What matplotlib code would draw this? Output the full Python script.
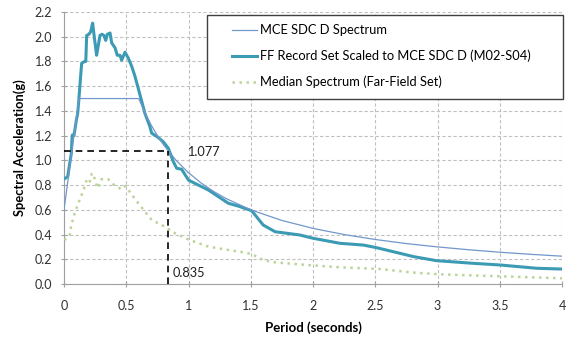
import matplotlib
matplotlib.use("Agg")
import matplotlib.pyplot as plt
from matplotlib.patches import Rectangle

plt.rcParams['font.family'] = ['Lato', 'DejaVu Sans']

# MCE SDC D design spectrum
mce_T = [0.0, 0.12, 0.6, 0.65, 0.7, 0.75, 0.8, 0.9, 1.0, 1.1, 1.2, 1.3, 1.5, 1.75,
         2.0, 2.25, 2.5, 2.75, 3.0, 3.25, 3.5, 3.75, 4.0]
mce_Sa = [0.6, 1.5, 1.5, 1.385, 1.286, 1.2, 1.125, 1.0, 0.9, 0.818, 0.75, 0.692, 0.6, 0.514,
          0.45, 0.4, 0.36, 0.327, 0.3, 0.277, 0.257, 0.24, 0.225]

# FF record set scaled to MCE SDC D (M02-S04)
ff_T = [0.01, 0.03, 0.046, 0.059, 0.064, 0.067, 0.08, 0.10, 0.11, 0.12, 0.135, 0.142, 0.165,
        0.175, 0.182, 0.20, 0.214, 0.23, 0.243, 0.262, 0.289, 0.305, 0.321, 0.335, 0.348,
        0.37, 0.383, 0.41, 0.428, 0.45, 0.463, 0.49, 0.517, 0.544, 0.57, 0.597, 0.65, 0.69,
        0.704, 0.75, 0.798, 0.838, 0.878, 0.905, 0.945, 1.00, 1.16, 1.32, 1.40, 1.507, 1.60,
        1.695, 1.896, 2.0, 2.217, 2.404, 2.51, 2.81, 2.99, 3.29, 3.5, 3.8, 4.0]
ff_Sa = [0.855, 0.868, 0.976, 1.057, 1.165, 1.205, 1.20, 1.33, 1.38, 1.50, 1.70, 1.785, 1.80,
         1.80, 2.01, 2.02, 2.04, 2.11, 2.00, 1.85, 2.01, 2.02, 2.01, 1.97, 2.02,
         2.03, 1.95, 1.91, 1.85, 1.85, 1.81, 1.875, 1.826, 1.76, 1.68, 1.58, 1.38, 1.273,
         1.22, 1.19, 1.15, 1.098, 0.99, 0.936, 0.928, 0.84, 0.76, 0.653, 0.63, 0.593, 0.477,
         0.423, 0.396, 0.37, 0.329, 0.315, 0.294, 0.221, 0.189, 0.167, 0.154, 0.127, 0.121]

# Median spectrum (far-field set)
med_T = [0.005, 0.01, 0.035, 0.046, 0.062, 0.072, 0.088, 0.112, 0.128, 0.153, 0.182, 0.193,
         0.205, 0.222, 0.233, 0.249, 0.27, 0.30, 0.356, 0.383, 0.423, 0.463, 0.49, 0.517,
         0.597, 0.704, 0.811, 0.892, 0.998, 1.16, 1.32, 1.414, 1.507, 1.60, 1.695, 1.95,
         2.217, 2.54, 2.81, 3.02, 3.42, 4.0]
med_Sa = [0.37, 0.36, 0.38, 0.396, 0.50, 0.518, 0.585, 0.64, 0.69, 0.747, 0.84, 0.84,
          0.82, 0.89, 0.896, 0.84, 0.774, 0.847, 0.847, 0.815, 0.787, 0.766, 0.793, 0.76,
          0.653, 0.518, 0.464, 0.41, 0.36, 0.302, 0.275, 0.261, 0.243, 0.194, 0.175, 0.154,
          0.135, 0.121, 0.092, 0.078, 0.065, 0.046]

mark_T = 0.835
mark_Sa = 1.077

x_ticks = [0, 0.5, 1, 1.5, 2, 2.5, 3, 3.5, 4]
x_labels = ['0', '0.5', '1', '1.5', '2', '2.5', '3', '3.5', '4']
y_ticks = [0.0, 0.2, 0.4, 0.6, 0.8, 1.0, 1.2, 1.4, 1.6, 1.8, 2.0, 2.2]

fig = plt.figure(figsize=(5.73, 3.40), dpi=100)
ax = fig.add_axes([64/573, 1 - 284/340, 498/573, 272/340])

ax.plot(ff_T, ff_Sa, color='#3c9bb4', lw=2.2, label='FF Record Set Scaled to MCE SDC D (M02-S04)', zorder=4)
ax.plot(mce_T, mce_Sa, color='#7197cc', lw=0.9, label='MCE SDC D Spectrum', zorder=5)
ax.plot(med_T, med_Sa, color='#bcd49a', lw=1.8, linestyle=(0, (1, 1.8)),
        label='Median Spectrum (Far-Field Set)', zorder=3)

ax.plot([0, mark_T], [mark_Sa, mark_Sa], color='black', lw=1.2, linestyle=(0, (4, 3)), zorder=6)
ax.plot([mark_T, mark_T], [0, mark_Sa], color='black', lw=1.2, linestyle=(0, (4, 3)), zorder=6)
ax.text(0.99, 1.068, '%.3f' % mark_Sa, fontsize=9.2, va='center', ha='left', color='#202020')
ax.text(0.875, 0.089, '%.3f' % mark_T, fontsize=9.2, va='center', ha='left', color='#202020')

ax.set_xlim(0, 4)
ax.set_ylim(0, 2.2)
ax.set_xticks(x_ticks)
ax.set_xticklabels(x_labels)
ax.set_yticks(y_ticks)
ax.set_yticklabels(['%.1f' % v for v in y_ticks])
ax.grid(True, color='#c0c0c0', lw=0.8, linestyle=(0, (3, 2)))
ax.set_axisbelow(True)
for s in ['top', 'right']:
    ax.spines[s].set_visible(False)
for s in ['left', 'bottom']:
    ax.spines[s].set_color('#a0a0a0')
ax.tick_params(axis='both', direction='inout', length=5, color='#a0a0a0',
               labelsize=9, labelcolor='#303030')
ax.tick_params(axis='x', pad=9)
ax.tick_params(axis='y', pad=6)
ax.set_xlabel('Period (seconds)', fontsize=9.5, fontweight='bold', labelpad=7)
ax.set_ylabel('Spectral Acceleration(g)', fontsize=9.3, fontweight='bold', labelpad=6)

rect = Rectangle((0.287, 0.680), 0.715, 0.309, transform=ax.transAxes, clip_on=False,
                 facecolor='white', edgecolor='#404040', lw=1.0, zorder=7)
ax.add_patch(rect)
h, l = ax.get_legend_handles_labels()
order = [1, 0, 2]
leg = ax.legend([h[i] for i in order], [l[i] for i in order], loc='upper left',
                bbox_to_anchor=(0.337, 0.955), frameon=False, borderpad=0, borderaxespad=0,
                fontsize=9.3, handlelength=1.95, handletextpad=0.2, labelspacing=1.05)
leg.set_zorder(8)

fig.savefig('out.png', dpi=100)
